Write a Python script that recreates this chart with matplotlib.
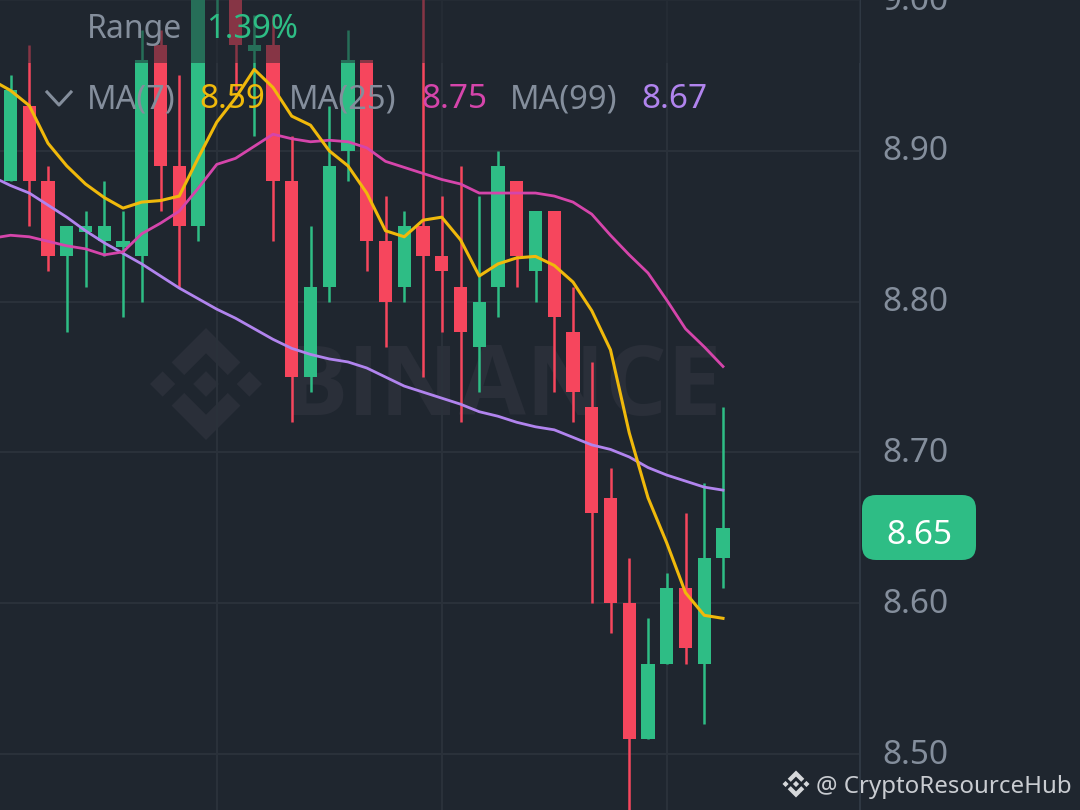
import numpy as np
import matplotlib
matplotlib.use('Agg')
import matplotlib.pyplot as plt
from matplotlib.patches import FancyBboxPatch, Polygon
from matplotlib.transforms import ScaledTranslation

plt.rcParams['font.family'] = ['Noto Sans', 'DejaVu Sans']

BG = '#1f262f'
GREEN = '#2ebd85'
RED = '#f6465d'
GREY = '#848e9c'
GRID = '#2a313a'

# candle data, oldest first
opens = [8.88, 8.93, 8.88, 8.83, 8.846, 8.84, 8.836, 8.83, 8.97, 8.89,
         8.85, 9.02, 9.00, 8.966, 8.97, 8.88, 8.75, 8.81, 8.90, 8.96,
         8.84, 8.81, 8.85, 8.83, 8.81, 8.77, 8.81, 8.88, 8.82, 8.86,
         8.78, 8.73, 8.67, 8.60, 8.51, 8.56, 8.61, 8.56, 8.63]
closes = [8.94, 8.88, 8.83, 8.85, 8.85, 8.85, 8.84, 8.96, 8.89, 8.85,
          9.01, 9.04, 8.97, 8.97, 8.88, 8.75, 8.81, 8.89, 8.96, 8.84,
          8.80, 8.85, 8.83, 8.82, 8.78, 8.80, 8.89, 8.83, 8.86, 8.79,
          8.74, 8.66, 8.60, 8.51, 8.56, 8.61, 8.57, 8.63, 8.65]
highs = [8.95, 8.97, 8.89, 8.85, 8.86, 8.88, 8.86, 8.98, 8.98, 8.95,
         9.02, 9.05, 9.02, 8.99, 8.99, 8.91, 8.85, 8.93, 8.98, 8.96,
         8.87, 8.86, 9.02, 8.87, 8.89, 8.87, 8.90, 8.88, 8.86, 8.86,
         8.81, 8.76, 8.69, 8.63, 8.59, 8.62, 8.66, 8.68, 8.73]
lows = [8.88, 8.85, 8.82, 8.78, 8.81, 8.83, 8.79, 8.80, 8.86, 8.81,
        8.84, 8.99, 8.94, 8.91, 8.84, 8.72, 8.74, 8.80, 8.88, 8.82,
        8.77, 8.80, 8.75, 8.78, 8.72, 8.74, 8.79, 8.81, 8.80, 8.74,
        8.72, 8.60, 8.58, 8.46, 8.51, 8.56, 8.56, 8.52, 8.61]

# moving averages start one candle before the first visible one
ma7 = [8.947, 8.940, 8.930, 8.905, 8.890, 8.878, 8.869, 8.862, 8.866, 8.867,
       8.870, 8.895, 8.919, 8.935, 8.954, 8.942, 8.923, 8.917, 8.900, 8.890,
       8.872, 8.847, 8.843, 8.854, 8.856, 8.841, 8.817, 8.825, 8.829, 8.830,
       8.824, 8.813, 8.794, 8.768, 8.713, 8.670, 8.640, 8.607, 8.592, 8.590]
ma25 = [8.842, 8.844, 8.843, 8.840, 8.837, 8.835, 8.831, 8.833, 8.845, 8.852,
        8.860, 8.875, 8.891, 8.895, 8.903, 8.911, 8.908, 8.906, 8.907, 8.906,
        8.902, 8.893, 8.889, 8.885, 8.881, 8.878, 8.872, 8.872, 8.872, 8.872,
        8.870, 8.866, 8.858, 8.844, 8.831, 8.819, 8.801, 8.782, 8.770, 8.757]
ma99 = [8.883, 8.877, 8.872, 8.864, 8.856, 8.847, 8.839, 8.832, 8.825, 8.817,
        8.809, 8.802, 8.795, 8.789, 8.782, 8.775, 8.769, 8.765, 8.762, 8.760,
        8.756, 8.750, 8.744, 8.740, 8.736, 8.732, 8.727, 8.724, 8.720, 8.717,
        8.715, 8.710, 8.705, 8.702, 8.697, 8.690, 8.685, 8.681, 8.677, 8.675]

price_ticks = [8.5, 8.6, 8.7, 8.8, 8.9, 9.0]
time_ticks = [11, 23, 35]

# binance logo outline, 126.6 units wide
LOGO = [
    [(38.7, 53.2), (63.3, 28.6), (87.9, 53.2), (102.2, 38.9), (63.3, 0), (24.4, 38.9)],
    [(38.7, 73.4), (63.3, 98), (87.9, 73.4), (102.2, 87.7), (63.3, 126.6), (24.4, 87.7)],
    [(0, 63.3), (14.3, 49), (28.6, 63.3), (14.3, 77.6)],
    [(98, 63.3), (112.3, 49), (126.6, 63.3), (112.3, 77.6)],
    [(48.8, 63.3), (63.3, 48.8), (77.8, 63.3), (63.3, 77.8)],
]


def draw_logo(axis, cx, cy, size, color):
    k = size / 126.6
    for shape in LOGO:
        pts = [(cx + (a - 63.3) * k, cy + (b - 63.3) * k) for a, b in shape]
        axis.add_patch(Polygon(pts, closed=True, facecolor=color, edgecolor='none'))


fig = plt.figure(figsize=(10.8, 8.1), dpi=100, facecolor=BG)

# watermark sits behind the candles
ax_bg = fig.add_axes([0, 0, 1, 1], zorder=0)
ax_bg.set_xlim(0, 1080)
ax_bg.set_ylim(810, 0)
ax_bg.axis('off')
draw_logo(ax_bg, 206, 384, 112, '#2a2f39')
ax_bg.text(502, 390, 'BINANCE', color='#2a2f39', fontsize=70, fontweight='bold',
           ha='center', va='center', family='Open Sans')

# main chart
ax = fig.add_axes([0, 0, 860 / 1080, 1], zorder=1)
ax.patch.set_alpha(0)
ax.set_xlim(-10.5 / 18.75, 849.5 / 18.75)
ax.set_ylim(8.5 - 56 / 1510, 8.5 + 754 / 1510)

idx = np.arange(len(opens))
o = np.array(opens)
c = np.array(closes)
colors = [GREEN if b > a else RED for a, b in zip(opens, closes)]

ax.vlines(idx, lows, highs, colors=colors, linewidth=1.8, capstyle='butt', zorder=2)
ax.bar(idx, np.abs(c - o), bottom=np.minimum(o, c), width=0.71, color=colors, linewidth=0, zorder=3)

ma_x = np.arange(-1, len(opens))
ax.plot(ma_x, ma99, color='#b184ee', linewidth=2.0, zorder=4)
ax.plot(ma_x, ma25, color='#d545ab', linewidth=2.0, zorder=5)
ax.plot(ma_x, ma7, color='#f0b90b', linewidth=2.2, zorder=6)

# the legend band dims everything under it
ax.axhspan(8.958, 9.1, color=BG, alpha=0.52, linewidth=0, zorder=7)

ax.set_xticks(time_ticks)
ax.set_yticks(price_ticks)
ax.set_yticklabels(['%.2f' % p for p in price_ticks])
ax.yaxis.tick_right()
ax.tick_params(axis='x', length=0, labelbottom=False)
ax.tick_params(axis='y', length=0, pad=16, labelsize=24, labelcolor=GREY)
ax.grid(True, color=GRID, linewidth=1.5, zorder=1)
ax.set_axisbelow(True)
for side in ['top', 'left', 'bottom']:
    ax.spines[side].set_visible(False)
ax.spines['right'].set_color('#2f3843')
ax.spines['right'].set_linewidth(1.5)
# labels sit a little above their gridlines
lift = ScaledTranslation(0, 3 / 100, fig.dpi_scale_trans)
for lab in ax.get_yticklabels():
    lab.set_transform(lab.get_transform() + lift)

# legend, price tag and credit are placed in pixels
ax_top = fig.add_axes([0, 0, 1, 1], zorder=2)
ax_top.set_xlim(0, 1080)
ax_top.set_ylim(810, 0)
ax_top.axis('off')

ax_top.text(87, 30, 'Range', color=GREY, fontsize=23, va='center')
ax_top.text(206, 30, '1.39%', color=GREEN, fontsize=23.5, va='center')
ax_top.plot([47, 59, 71], [92, 105, 92], color=GREY, linewidth=2.2)

legend_items = [(87, 'MA(7)', GREY), (199, '8.59', '#f0b90b'),
                (289, 'MA(25)', GREY), (421, '8.75', '#d545ab'),
                (510, 'MA(99)', GREY), (641, '8.67', '#b184ee')]
for x, label, col in legend_items:
    ax_top.text(x, 100, label, color=col, fontsize=24 if col != GREY else 23.5, va='center')

ax_top.add_patch(FancyBboxPatch((874, 507), 90, 41, boxstyle='round,pad=12,rounding_size=14',
                                facecolor=GREEN, edgecolor='none'))
ax_top.text(919, 536, '8.65', color='white', fontsize=24, ha='center', va='center')

draw_logo(ax_top, 796, 784, 27, '#d5d7da')
ax_top.text(816, 787, '@ CryptoResourceHub', color='#c9ccd1', fontsize=17.3, va='center')

fig.savefig('out.png', dpi=100, facecolor=BG)
